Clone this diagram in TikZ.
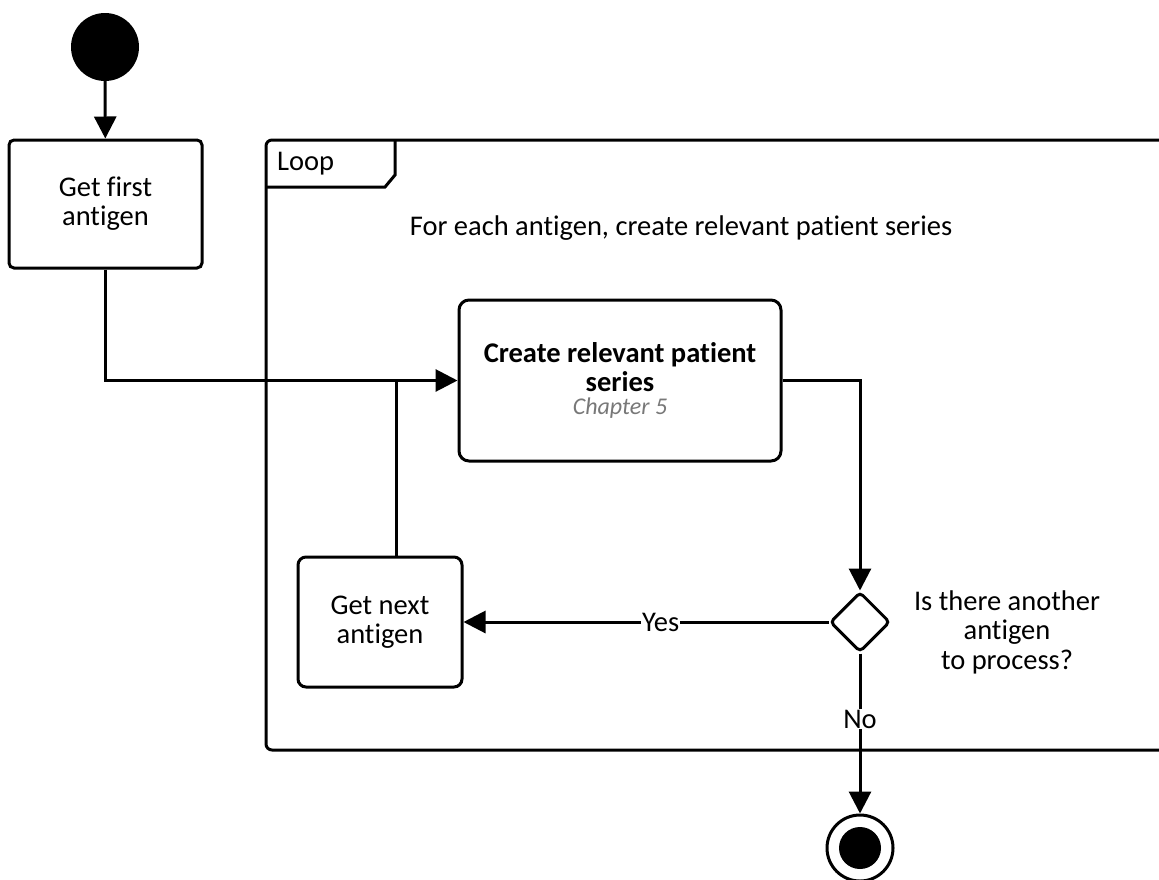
\documentclass[tikz,border=0pt]{standalone}
\usepackage{fontspec}
\setmainfont{Carlito}[Ligatures=NoCommon]
\usetikzlibrary{arrows.meta,shapes.geometric,calc}
\definecolor{chapgray}{RGB}{120,120,120}
\tikzset{
  lw/.style={line width=3pt},
  actbox/.style={draw,lw,rounded corners=#1,align=center,inner sep=0pt,font=\fontsize{28.5}{29}\selectfont},
  flow/.style={lw,-{Triangle[length=22pt,width=22pt]}},
  plain/.style={lw},
  lbl/.style={fill=white,inner sep=1pt,font=\fontsize{28.5}{29}\selectfont},
  txt/.style={align=center,inner sep=0pt,font=\fontsize{28.5}{29.5}\selectfont},
}
\begin{document}
\begin{tikzpicture}[x=1pt,y=-1pt]
\useasboundingbox (0,0) rectangle (1159,879);
\clip (0,0) rectangle (1159,879);
% loop frame
\draw[lw,rounded corners=6pt] (1175,140) -- (266,140) -- (266,750) -- (1175,750);
\draw[lw] (266,187) -- (385,187) -- (395,175) -- (395,140);
\node[txt,anchor=west] (looplbl) at (277,164) {Loop};
\node[txt] (forall) at (681,228) {For each antigen, create relevant patient series};
% nodes
\node[circle,fill=black,minimum size=68pt,inner sep=0pt] (start) at (105,47) {};
\node[actbox=5pt,minimum width=193pt,minimum height=128pt] (first) at (105.5,204) {Get first\\antigen};
\node[actbox=10pt,minimum width=322pt,minimum height=161pt] (create) at (620,380.5) {};
\node[txt,font=\bfseries\fontsize{28.5}{29}\selectfont] (createtxt) at (620,367) {Create relevant patient\\series};
\node[txt,font=\itshape\fontsize{24}{26}\selectfont,text=chapgray] (chap) at (620,408) {Chapter 5};
\node[actbox=8pt,minimum width=164pt,minimum height=130pt] (next) at (380,622) {Get next\\antigen};
\node[diamond,draw,lw,rounded corners=4pt,minimum width=60pt,minimum height=60pt,inner sep=0pt] (dec) at (860,622) {};
\node[txt] (q) at (1007,632) {Is there another\\antigen\\to process?};
\node[circle,draw,lw,minimum size=66pt,inner sep=0pt] (end) at (860,848) {};
\node[circle,fill=black,minimum size=42pt,inner sep=0pt] (endin) at (860,848) {};
\coordinate (join) at (396,0 |- create.west);
% connectors
\draw[flow] (start) -- (first);
\draw[flow] (first.south) |- (create.west);
\draw[plain] (join |- next.north) -- (join);
\draw[flow] (create.east) -| (dec.north);
\draw[flow] (dec.west) -- node[lbl,pos=0.46] {Yes} (next.east);
\draw[flow] (dec.south) -- node[lbl,pos=0.41] {No} (end.north);
\end{tikzpicture}
\end{document}
